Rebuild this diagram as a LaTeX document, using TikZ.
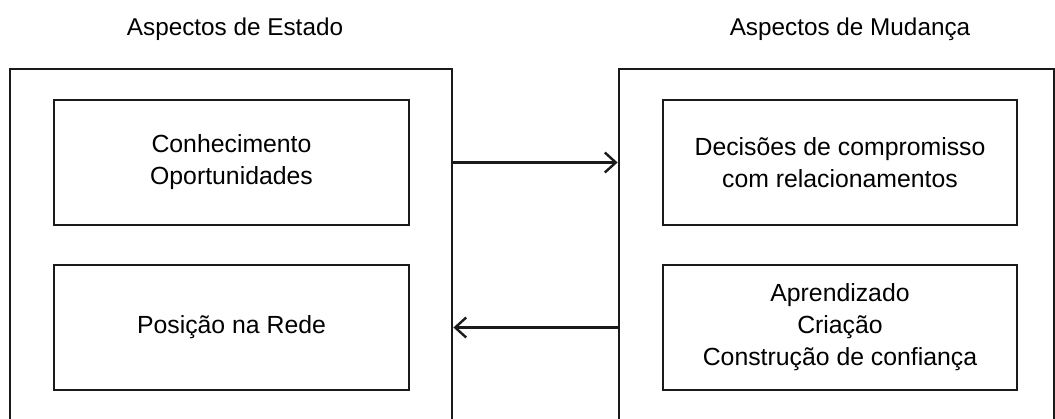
\documentclass[tikz,border=0pt]{standalone}
\usepackage{fontspec}
\setmainfont{Liberation Sans}
\usepackage{xcolor}
\usetikzlibrary{arrows.meta,positioning,calc}
\definecolor{ink}{HTML}{1A1A1A}
\tikzset{
  outerbox/.style={draw=ink,line width=2.8pt,inner sep=0pt},
  innerbox/.style={draw=ink,line width=2.8pt,inner sep=0pt,
                   minimum width=355pt,minimum height=125pt,
                   align=center,font=\fontsize{24.8}{32}\selectfont},
  titletext/.style={font=\fontsize{24.3}{28}\selectfont,inner sep=0pt},
  linkarr/.style={-{Straight Barb[length=11pt,width=20pt,line width=2.4pt]},line width=2.4pt,color=ink}
}
\begin{document}
\begin{tikzpicture}[x=1pt,y=-1pt]
  \useasboundingbox (0,0) rectangle (1055,419);
  \clip (0,0) rectangle (1055,419);

  \node[titletext] (titestado) at (235,29) {Aspectos de Estado};
  \node[titletext] (titmudanca) at (850,29) {Aspectos de Mudança};

  % outer frames run past the lower edge
  \node[outerbox,minimum width=442pt,minimum height=372pt] (estado) at (231,255) {};
  \node[outerbox,minimum width=435pt,minimum height=372pt] (mudanca) at (836.5,255) {};

  \node[innerbox] (conhec) at (231.5,162.5) {Conhecimento\\Oportunidades};
  \node[innerbox] (posicao) at (231.5,327.5) {Posição na Rede};
  \node[innerbox,minimum width=354pt] (decisoes) at (840,162.5)
    {Decisões de compromisso\\com relacionamentos};
  \node[innerbox,minimum width=354pt] (aprend) at (840,327.5)
    {Aprendizado\\Criação\\Construção de confiança};

  \draw[linkarr] (conhec -| estado.east) -- (conhec -| mudanca.west);
  \draw[linkarr] (aprend -| mudanca.west) -- (aprend -| estado.east);
\end{tikzpicture}
\end{document}
